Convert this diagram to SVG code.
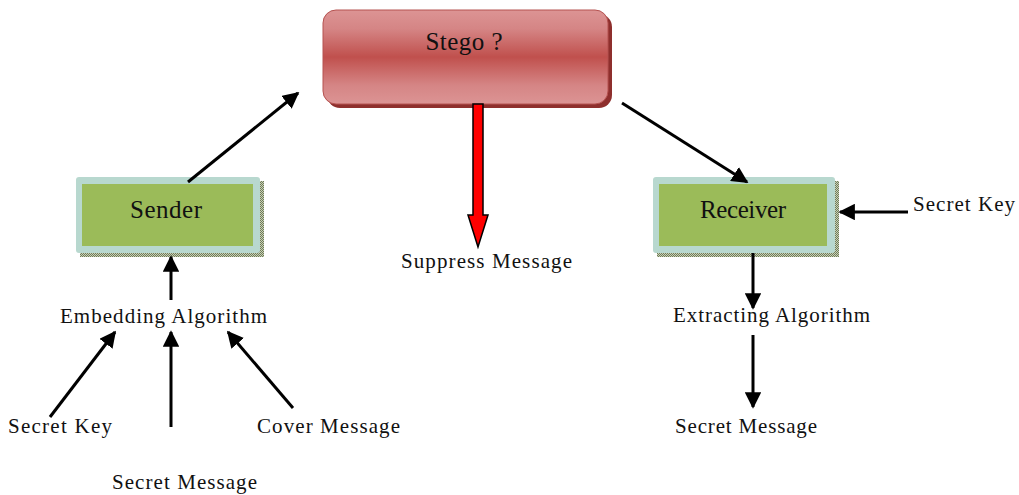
<svg xmlns="http://www.w3.org/2000/svg" width="1019" height="495" viewBox="0 0 1019 495">
<style>
.t{font-family:"Liberation Serif","Times New Roman",serif;fill:#111;}
.lbl{font-size:21px;}
.conn line{stroke:#000;stroke-width:3;}
.outer{fill:#b8d8cf;}
.inner{fill:#9bbb59;}
</style>
<defs>
<linearGradient id="red" x1="0" y1="0" x2="0" y2="1">
<stop offset="0" stop-color="#dc9494"/>
<stop offset="0.2" stop-color="#d58585"/>
<stop offset="0.5" stop-color="#c0504d"/>
<stop offset="0.8" stop-color="#d58585"/>
<stop offset="1" stop-color="#dc9494"/>
</linearGradient>
<pattern id="dots" width="2" height="2" patternUnits="userSpaceOnUse">
<rect width="2" height="2" fill="#c9cfb8"/>
<rect width="1" height="1" fill="#6f7d58"/>
<rect x="1" y="1" width="1" height="1" fill="#6f7d58"/>
</pattern>
<marker id="ah" viewBox="0 0 10 10" refX="9" refY="5" markerWidth="5.5" markerHeight="5.5" markerUnits="strokeWidth" orient="auto">
<path d="M0,0 L10,5 L0,10 z" fill="#000"/>
</marker>
</defs>
<rect width="1019" height="495" fill="#fff"/>

<g id="stego">
<rect x="327" y="14" width="285" height="94" rx="13" fill="#8e2f2d"/>
<rect x="323" y="10" width="285" height="94" rx="13" fill="url(#red)" stroke="#b55250" stroke-width="1"/>
<text class="t" x="464" y="50" font-size="25" text-anchor="middle" textLength="77">Stego ?</text>
</g>

<g id="sender">
<rect x="80" y="181" width="184" height="76" fill="url(#dots)"/>
<rect class="outer" x="76" y="177" width="184" height="76" rx="3"/>
<rect class="inner" x="82" y="184" width="171" height="62"/>
<text class="t" x="166" y="218" font-size="25" text-anchor="middle" textLength="72">Sender</text>
</g>

<g id="receiver">
<rect x="657" y="181" width="182" height="76" fill="url(#dots)"/>
<rect class="outer" x="653" y="177" width="182" height="76" rx="3"/>
<rect class="inner" x="659" y="184" width="168" height="62"/>
<text class="t" x="743" y="218" font-size="25" text-anchor="middle" textLength="86">Receiver</text>
</g>

<g id="suppress">
<path d="M473,104 L483,104 L483,215 L488,215 L478,247 L468,215 L473,215 z" fill="#ff0000" stroke="#000" stroke-width="1.5"/>
<text class="t lbl" x="401" y="268" textLength="171">Suppress Message</text>
</g>

<g id="labels">
<text class="t lbl" x="60" y="323" textLength="207">Embedding Algorithm</text>
<text class="t lbl" x="8" y="433" textLength="104">Secret Key</text>
<text class="t lbl" x="257" y="433" textLength="143">Cover Message</text>
<text class="t lbl" x="112" y="489" textLength="145">Secret Message</text>
<text class="t lbl" x="913" y="211" textLength="102">Secret Key</text>
<text class="t lbl" x="673" y="322" textLength="197">Extracting Algorithm</text>
<text class="t lbl" x="675" y="433" textLength="142">Secret Message</text>
</g>

<g id="connectors" class="conn">
<line x1="188" y1="182" x2="298" y2="93" marker-end="url(#ah)"/>
<line x1="622" y1="103" x2="747" y2="182" marker-end="url(#ah)"/>
<line x1="908" y1="212" x2="840" y2="212" marker-end="url(#ah)"/>
<line x1="753" y1="253" x2="753" y2="308" marker-end="url(#ah)"/>
<line x1="753" y1="335" x2="753" y2="407" marker-end="url(#ah)"/>
<line x1="171" y1="300" x2="171" y2="257" marker-end="url(#ah)"/>
<line x1="50" y1="417" x2="115" y2="332" marker-end="url(#ah)"/>
<line x1="171" y1="427" x2="171" y2="332" marker-end="url(#ah)"/>
<line x1="293" y1="408" x2="228" y2="332" marker-end="url(#ah)"/>
</g>
</svg>
